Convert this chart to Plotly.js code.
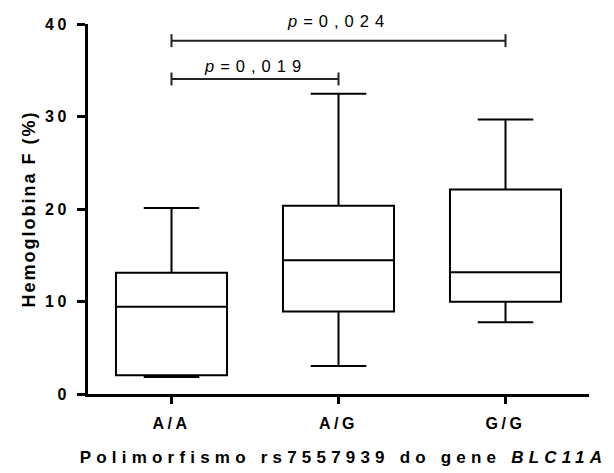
<!DOCTYPE html>
<html>
<head>
<meta charset="utf-8">
<script src="https://cdn.plot.ly/plotly-3.0.1.min.js"></script>
<style>
  html, body { margin: 0; padding: 0; background: #ffffff; }
  #chart { width: 614px; height: 473px; }
  /* wide tracking on all chart text */
  .js-plotly-plot .xtick text, .js-plotly-plot .ytick text { letter-spacing: 3.5px; }
  .js-plotly-plot .ytitle, .js-plotly-plot .g-ytitle text { letter-spacing: 2px; }
  .js-plotly-plot .xtitle, .js-plotly-plot .g-xtitle text { letter-spacing: 5.2px; }
  .js-plotly-plot .g-xtitle { transform: translate(5px, 0); }
  .js-plotly-plot text.annotation-text { letter-spacing: 6px; }
</style>
</head>
<body>
<div id="chart"></div>
<script>
// Genotypes of rs7557939 and HbF (%) summary per group
const genotypes   = ['A/A', 'A/G', 'G/G'];
const lowerWhisk  = [1.83, 3.02, 7.77];
const q1Values    = [2.02, 8.92, 9.97];
const medians     = [9.43, 14.46, 13.16];
const q3Values    = [13.1, 20.36, 22.1];
const upperWhisk  = [20.1, 32.47, 29.67];

// Pairwise comparisons (group indices) and their p-values
const compFrom    = [0, 0];
const compTo      = [1, 2];
const pValues     = ['0,019', '0,024'];

const bracketLevels = [34.06, 38.2];   // height of each bracket, in HbF units
const textOffsets   = [13, 20];        // label lift above its bracket, px
const capHalf       = 0.7;             // half-height of bracket end caps

const font = 'Liberation Sans, Arial, sans-serif';

const box = {
  type: 'box',
  x: genotypes,
  q1: q1Values,
  median: medians,
  q3: q3Values,
  lowerfence: lowerWhisk,
  upperfence: upperWhisk,
  boxpoints: false,
  width: 0.665,
  whiskerwidth: 0.5,
  fillcolor: '#ffffff',
  line: { color: '#000000', width: 2 },
  hoverinfo: 'skip',
  showlegend: false
};

const shapes = [];
const annotations = [];
compFrom.forEach((a, i) => {
  const b = compTo[i];
  const y = bracketLevels[i];
  const ln = { color: '#222222', width: 2 };
  shapes.push({ type: 'line', xref: 'x', yref: 'y', x0: a, x1: b, y0: y, y1: y, line: ln });
  shapes.push({ type: 'line', xref: 'x', yref: 'y', x0: a, x1: a, y0: y - capHalf, y1: y + capHalf, line: ln });
  shapes.push({ type: 'line', xref: 'x', yref: 'y', x0: b, x1: b, y0: y - capHalf, y1: y + capHalf, line: ln });
  annotations.push({
    xref: 'x', yref: 'y',
    x: (a + b) / 2, y: y,
    yanchor: 'middle', yshift: textOffsets[i],
    text: '<i>p</i>=' + pValues[i],
    showarrow: false,
    font: { family: font, size: 16.5, color: '#000000' }
  });
});

const layout = {
  width: 614,
  height: 473,
  margin: { l: 88, r: 25, t: 24, b: 79 },
  paper_bgcolor: '#ffffff',
  plot_bgcolor: '#ffffff',
  showlegend: false,
  xaxis: {
    type: 'category',
    range: [-0.5, 2.5],
    showgrid: false,
    zeroline: false,
    showline: true,
    linecolor: '#000000',
    linewidth: 3,
    ticks: 'outside',
    ticklen: 7,
    tickwidth: 3,
    tickcolor: '#000000',
    ticklabelstandoff: 6,
    tickfont: { family: font, size: 16, color: '#000000', weight: 'bold' },
    title: {
      text: 'Polimorfismo rs7557939 do gene <i>BLC11A</i>',
      font: { family: font, size: 17, color: '#000000', weight: 'bold' },
      standoff: 20
    },
    fixedrange: true
  },
  yaxis: {
    range: [0, 40],
    tickvals: [0, 10, 20, 30, 40],
    showgrid: false,
    zeroline: false,
    showline: true,
    linecolor: '#000000',
    linewidth: 3,
    ticks: 'outside',
    ticklen: 8,
    tickwidth: 3,
    tickcolor: '#000000',
    ticklabelstandoff: 4,
    tickfont: { family: font, size: 16, color: '#000000', weight: 'bold' },
    title: {
      text: 'Hemoglobina F (%)',
      font: { family: font, size: 18, color: '#000000', weight: 'bold' },
      standoff: 12
    },
    fixedrange: true
  },
  shapes: shapes,
  annotations: annotations
};

Plotly.newPlot('chart', [box], layout, { displayModeBar: false, staticPlot: true });
</script>
</body>
</html>
